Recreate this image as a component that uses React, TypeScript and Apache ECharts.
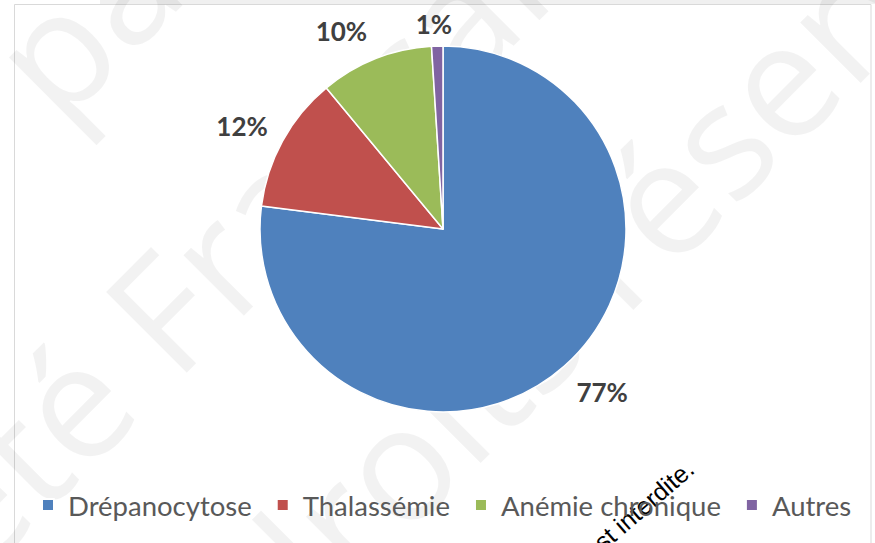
import React, { useEffect, useRef } from "react";
import * as echarts from "echarts";

// ---- data ----
const CATEGORIES = ["Drépanocytose", "Thalassémie", "Anémie chronique", "Autres"];
const VALUES = [77, 12, 10, 1];
const COLORS = ["#4F81BD", "#C0504D", "#9BBB59", "#8064A2"];

// ---- layout constants (label nudges in px, relative to the label ring) ----
const LABEL_NUDGE: number[][] = [
  [9, -7],
  [-2, 6],
  [-18, 13],
  [-2, 22],
];

const CX = 443;
const CY = 229;
const R = 183;

export default function App() {
  const ref = useRef<HTMLDivElement>(null);

  useEffect(() => {
    document.body.style.margin = "0";
    if (!ref.current) return;
    const chart = echarts.init(ref.current, undefined, { renderer: "svg" });

    const wmRot = (45 * Math.PI) / 180;
    const wmStyle = {
      fontFamily: "Open Sans",
      fontSize: 160,
      fill: "rgba(0,0,0,0.05)",
      verticalAlign: "middle",
    };

    const option: any = {
      animation: false,
      backgroundColor: "#ffffff",
      legend: {
        data: CATEGORIES.map((n, i) => ({ name: n, itemStyle: { color: COLORS[i] } })),
        left: 41,
        top: 491,
        padding: 0,
        icon: "rect",
        itemWidth: 12,
        itemHeight: 12,
        itemGap: 24,
        selectedMode: false,
        textStyle: {
          fontFamily: "Lato",
          fontSize: 27.5,
          color: "#595959",
          lineHeight: 28,
          padding: [0, 0, 0, 9],
        },
      },
      graphic: [
        {
          type: "rect",
          z: 0,
          silent: true,
          shape: { x: 100, y: 0, width: 775, height: 4 },
          style: { fill: "#f0f0f0" },
        },
        {
          type: "rect",
          z: 0,
          silent: true,
          shape: { x: 14.5, y: 4.5, width: 856.5, height: 620 },
          style: { fill: "none", stroke: "#d9d9d9", lineWidth: 1 },
        },
        {
          type: "group",
          z: 100,
          silent: true,
          children: [
            { type: "text", x: 16, y: 84, rotation: wmRot, style: { ...wmStyle, text: "par", align: "left" } },
            { type: "text", x: 102, y: 370, rotation: wmRot, style: { ...wmStyle, text: "Société", align: "right" } },
            { type: "text", x: 132, y: 340, rotation: wmRot, style: { ...wmStyle, text: "Française", align: "left" } },
            { type: "text", x: 550, y: 306, rotation: wmRot, style: { ...wmStyle, text: "droits", align: "right" } },
            { type: "text", x: 580, y: 276, rotation: wmRot, style: { ...wmStyle, text: "réservés", align: "left" } },
            {
              type: "text",
              x: 690,
              y: 465,
              rotation: (41 * Math.PI) / 180,
              style: {
                text: "est interdite.",
                fontFamily: "Liberation Sans",
                fontSize: 25,
                fill: "#000000",
                align: "right",
                verticalAlign: "middle",
              },
            },
          ],
        },
      ],
      series: [
        {
          name: "main",
          type: "pie",
          center: [CX, CY],
          radius: R,
          startAngle: 90,
          clockwise: true,
          avoidLabelOverlap: false,
          label: { show: false },
          labelLine: { show: false },
          emphasis: { disabled: true },
          itemStyle: { borderColor: "#ffffff", borderWidth: 1.5 },
          data: CATEGORIES.map((n, i) => ({
            name: n,
            value: VALUES[i],
            itemStyle: { color: COLORS[i] },
          })),
        },
        {
          name: "labels",
          type: "pie",
          center: [CX, CY],
          radius: [R, R + 82],
          startAngle: 90,
          clockwise: true,
          silent: true,
          avoidLabelOverlap: false,
          emphasis: { disabled: true },
          itemStyle: { color: "rgba(0,0,0,0)" },
          labelLine: { show: false },
          label: {
            show: true,
            position: "inside",
            formatter: (p: any) => p.value + "%",
            fontFamily: "Lato",
            fontWeight: "bold",
            fontSize: 26,
            color: "#404040",
          },
          labelLayout: (params: any) => {
            const n = LABEL_NUDGE[params.dataIndex] || [0, 0];
            return { dx: n[0], dy: n[1] };
          },
          data: CATEGORIES.map((n, i) => ({ name: n, value: VALUES[i] })),
        },
      ],
    };

    chart.setOption(option);
    return () => {
      chart.dispose();
    };
  }, []);

  return <div ref={ref} style={{ width: 875, height: 543 }} />;
}
